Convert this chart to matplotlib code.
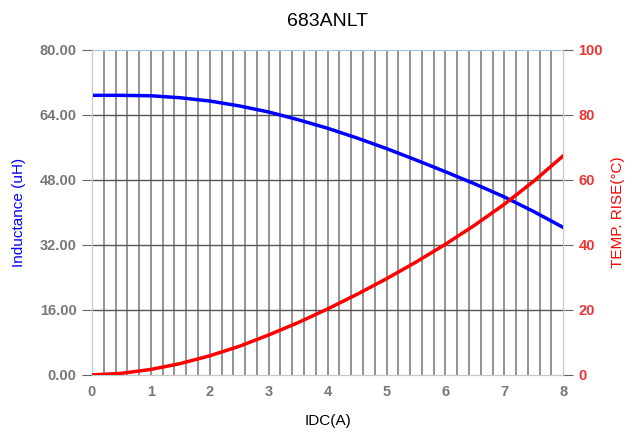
import matplotlib.pyplot as plt
import numpy as np

plt.rcParams['font.family'] = ['Liberation Sans', 'DejaVu Sans']

# значения
idc = [0, 0.5, 1, 1.5, 2, 2.5, 3, 3.5, 4, 4.5, 5, 5.5, 6, 6.5, 7, 7.5, 8]
inductance = [68.8, 68.8, 68.7, 68.2, 67.4, 66.2, 64.7, 62.8, 60.7, 58.3,
              55.7, 52.9, 50.0, 47.0, 43.8, 40.2, 36.3]
temp_rise = [0, 0.5, 1.7, 3.5, 5.9, 8.8, 12.3, 16.1, 20.3, 24.8,
             29.6, 34.7, 40.2, 46.1, 52.5, 59.6, 67.4]

left_ticks = [0, 16, 32, 48, 64, 80]
right_ticks = [0, 20, 40, 60, 80, 100]
x_ticks = [0, 1, 2, 3, 4, 5, 6, 7, 8]

fig = plt.figure(figsize=(6.3, 4.37), dpi=100)
ax = fig.add_axes([0.146, 0.142, 0.748, 0.744])
ax2 = ax.twinx()

# сетка
for xv in np.arange(0.2, 8.0, 0.2):
    ax.axvline(xv, color='#8a8a8a', lw=1.3, zorder=1)
for yv in left_ticks[1:-1]:
    ax.axhline(yv, color='#555555', lw=1.0, zorder=1)

ax.plot(idc, inductance, color='#0000ff', lw=2.5, zorder=3)
ax2.plot(idc, temp_rise, color='#ff0000', lw=2.5, zorder=3)

ax.set_xlim(0, 8)
ax.set_ylim(0, 80)
ax2.set_ylim(0, 100)

ax.set_xticks(x_ticks)
ax.set_xticklabels([str(v) for v in x_ticks], color='#777777', fontweight='bold', fontsize=10.5)
ax.tick_params(axis='x', length=0, pad=7)
ax.set_yticks(left_ticks)
ax.set_yticklabels(['%.2f' % v for v in left_ticks], color='#777777', fontweight='bold', fontsize=10.5)
ax.tick_params(axis='y', length=7, color='#666666', pad=4)
ax2.set_yticks(right_ticks)
ax2.set_yticklabels([str(v) for v in right_ticks], color='#ee3333', fontweight='bold', fontsize=10.5)
ax2.tick_params(axis='y', length=7, color='#666666', pad=4)

for a in (ax, ax2):
    a.spines['left'].set_color('#c8c8c8')
    a.spines['right'].set_color('#c8c8c8')
    a.spines['bottom'].set_color('#c8c8c8')
    a.spines['top'].set_color('#a8c8e0')

ax.set_title('683ANLT', fontsize=14, pad=17)
ax.set_xlabel('IDC(A)', fontsize=11, labelpad=11)
ax.set_ylabel('Inductance (uH)', color='#0000ff', fontsize=11, labelpad=10)
ax2.set_ylabel('TEMP. RISE(°C)', color='#ff0000', fontsize=11, labelpad=6)

plt.savefig('out.png', dpi=100)
